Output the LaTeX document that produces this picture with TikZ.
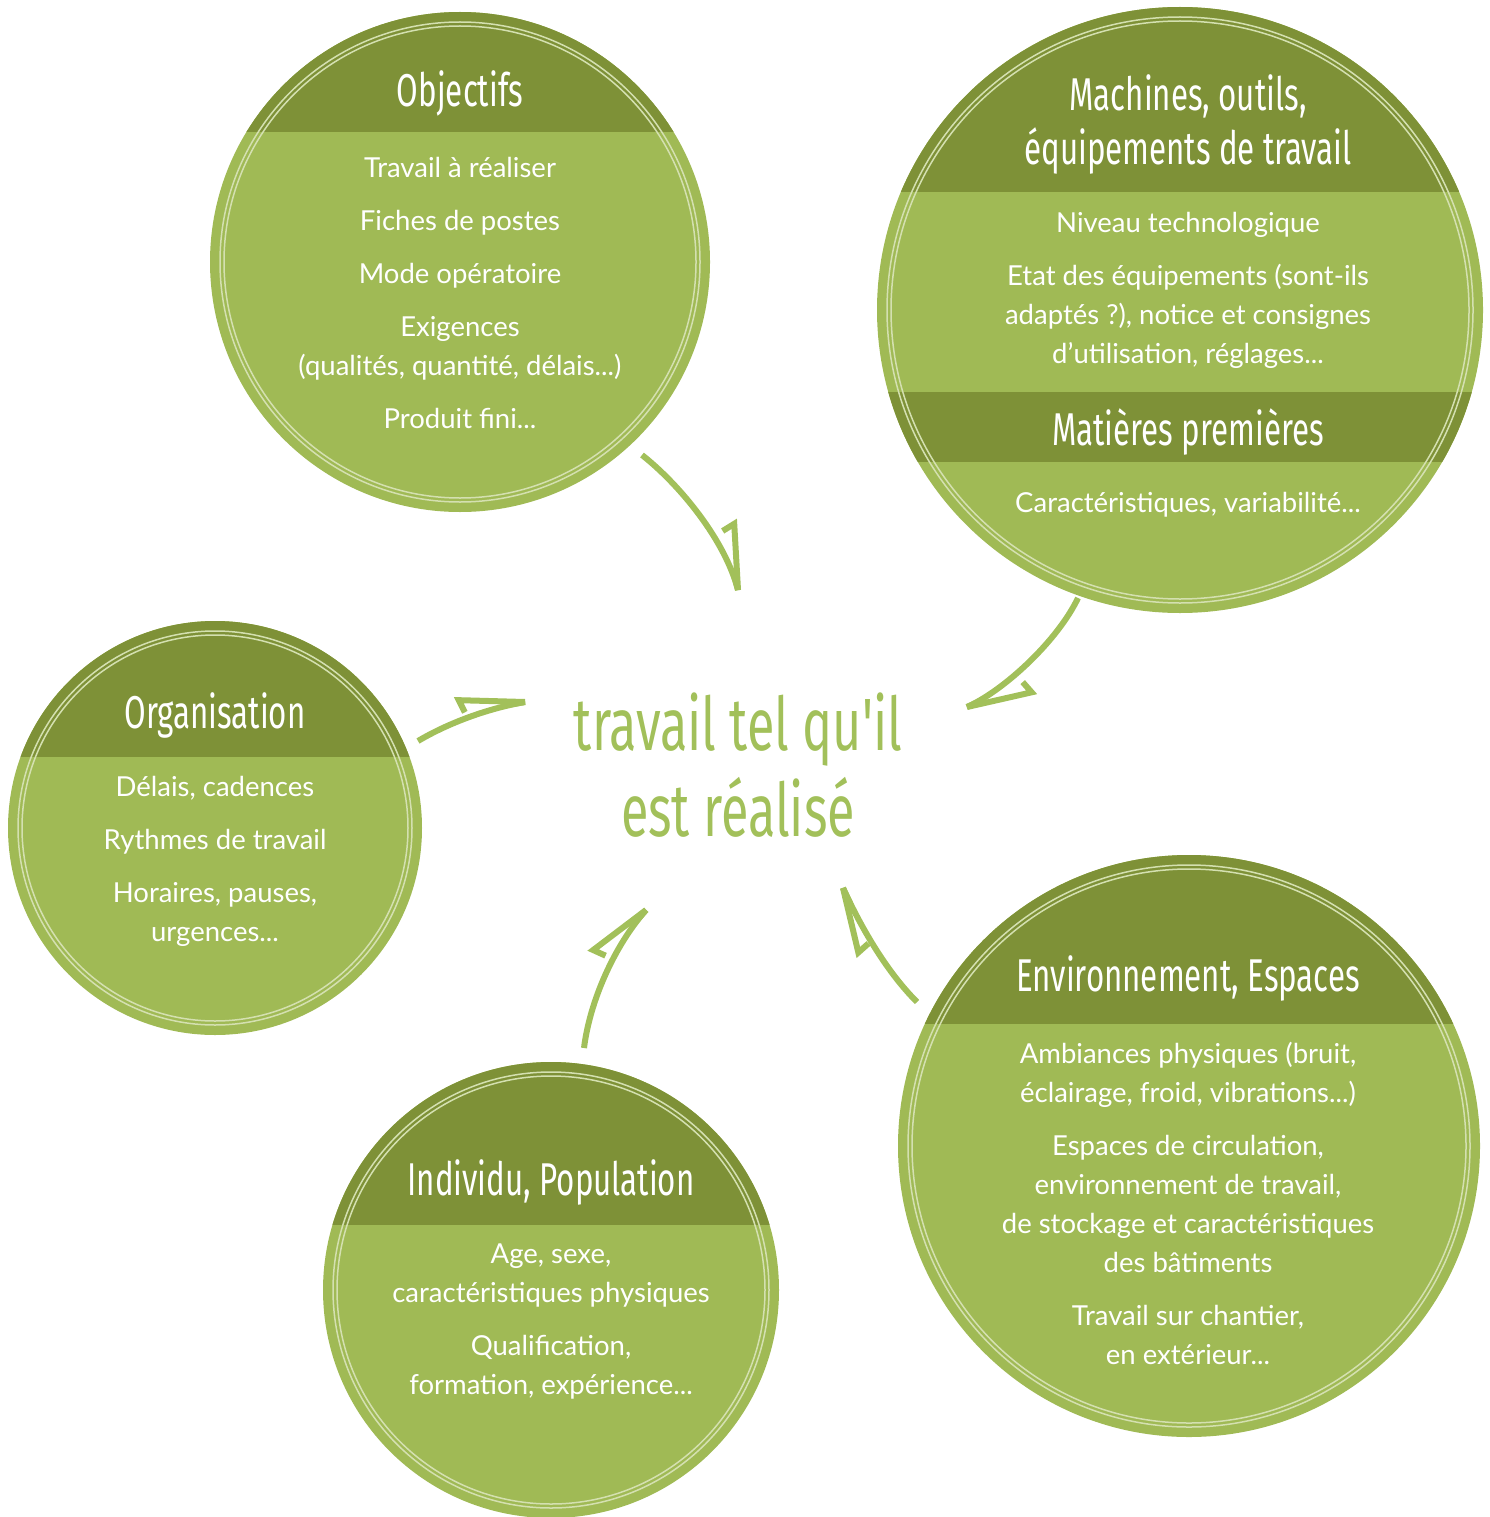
\documentclass[tikz,border=0pt]{standalone}
\usepackage{fontspec}
\setmainfont{Lato}
\newfontfamily\headfont[FakeStretch=0.68]{Fira Sans}
\usetikzlibrary{decorations.markings}
\definecolor{leaf}{HTML}{A0BA55}
\definecolor{moss}{HTML}{7E9137}
\definecolor{ringline}{HTML}{D4E0B0}
\definecolor{sprout}{HTML}{A2C05A}

\tikzset{
  bubble/.style={circle, fill=leaf, inner sep=0pt, minimum size=#1},
  ring/.style={draw=ringline, line width=1.5},
  title/.style={text=white, font=\headfont\fontsize{46}{54}\selectfont, align=center},
  body/.style={text=white, font=\fontsize{27.5}{39}\selectfont, align=center},
  flow/.style={draw=sprout, line width=6, postaction={decorate},
    decoration={markings, mark=at position 1 with {
      \draw[sprout, line width=6, miter limit=3] (-20,0) -- (0,0) -- (-65,#1) -- (-61,0);}}},
}

\begin{document}
\begin{tikzpicture}[x=1pt, y=-1pt]
  \useasboundingbox (0,0) rectangle (1490,1517);

  % bubbles
  \node[bubble=500] (obj) at (460,262) {};
  \node[bubble=606] (mach) at (1180,310) {};
  \node[bubble=414] (orga) at (215,828) {};
  \node[bubble=456] (indiv) at (551,1290) {};
  \node[bubble=582] (envi) at (1189,1146) {};

  % header bands
  \begin{scope}
    \clip (obj.center) circle (250);
    \fill[moss] (200,0) rectangle (720,132);
  \end{scope}
  \begin{scope}
    \clip (mach.center) circle (303);
    \fill[moss] (870,0) rectangle (1490,192);
    \fill[moss] (870,392) rectangle (1490,462);
  \end{scope}
  \begin{scope}
    \clip (orga.center) circle (207);
    \fill[moss] (0,600) rectangle (430,757);
  \end{scope}
  \begin{scope}
    \clip (indiv.center) circle (228);
    \fill[moss] (310,1050) rectangle (790,1225);
  \end{scope}
  \begin{scope}
    \clip (envi.center) circle (291);
    \fill[moss] (890,840) rectangle (1490,1024);
  \end{scope}

  % double rings
  \draw[ring] (obj.center) circle (240);
  \draw[ring] (obj.center) circle (236);
  \draw[ring] (mach.center) circle (293);
  \draw[ring] (mach.center) circle (289);
  \draw[ring] (orga.center) circle (197);
  \draw[ring] (orga.center) circle (193);
  \draw[ring] (indiv.center) circle (218);
  \draw[ring] (indiv.center) circle (214);
  \draw[ring] (envi.center) circle (281);
  \draw[ring] (envi.center) circle (277);

  % texts
  \node[title] (objtitle) at (460,93) {Objectifs};
  \node[body] (objtext) at (460,293) {Travail à réaliser\\[14pt]
    Fiches de postes\\[14pt] Mode opératoire\\[14pt] Exigences\\
    (qualités, quantité, délais...)\\[14pt] Produit fini...};

  \node[title] (machtitle) at (1188,124) {Machines, outils,\\ équipements de travail};
  \node[body] (machtext) at (1188,290) {Niveau technologique\\[14pt]
    Etat des équipements (sont-ils\\ adaptés ?), notice et consignes\\
    d'utilisation, réglages...};
  \node[title] (mattitle) at (1188,432) {Matières premières};
  \node[body] (mattext) at (1188,505) {Caractéristiques, variabilité...};

  \node[title] (orgatitle) at (215,715) {Organisation};
  \node[body] (orgatext) at (215,861) {Délais, cadences\\[14pt]
    Rythmes de travail\\[14pt] Horaires, pauses,\\ urgences...};

  \node[title] (indivtitle) at (551,1182) {Individu, Population};
  \node[body] (indivtext) at (551,1321) {Age, sexe,\\ caractéristiques physiques\\[14pt]
    Qualification,\\ formation, expérience...};

  \node[title] (envititle) at (1188,978) {Environnement, Espaces};
  \node[body] (envitext) at (1188,1203) {Ambiances physiques (bruit,\\
    éclairage, froid, vibrations...)\\[14pt] Espaces de circulation,\\
    environnement de travail,\\ de stockage et caractéristiques\\
    des bâtiments\\[14pt] Travail sur chantier,\\ en extérieur...};

  \node[text=sprout, font=\headfont\fontsize{74}{86}\selectfont, align=center]
    (work) at (738,765) {travail tel qu'il\\ est réalisé};

  % arrows
  \coordinate (objout) at (642,455);
  \coordinate (objin) at (738,590);
  \coordinate (machout) at (1078,598);
  \coordinate (machin) at (967,707);
  \coordinate (orgaout) at (418,741);
  \coordinate (orgain) at (525,702);
  \coordinate (indivout) at (584,1048);
  \coordinate (indivin) at (646,910);
  \coordinate (enviout) at (917,1002);
  \coordinate (enviin) at (843,888);

  \draw[flow=-13] (objout) .. controls (680,485) and (725,540) .. (objin);
  \draw[flow=-13] (machout) .. controls (1058,640) and (1005,690) .. (machin);
  \draw[flow=-13] (orgaout) .. controls (450,722) and (490,708) .. (orgain);
  \draw[flow=-13] (indivout) .. controls (590,1000) and (615,945) .. (indivin);
  \draw[flow=-13] (enviout) .. controls (885,970) and (860,925) .. (enviin);
\end{tikzpicture}
\end{document}
